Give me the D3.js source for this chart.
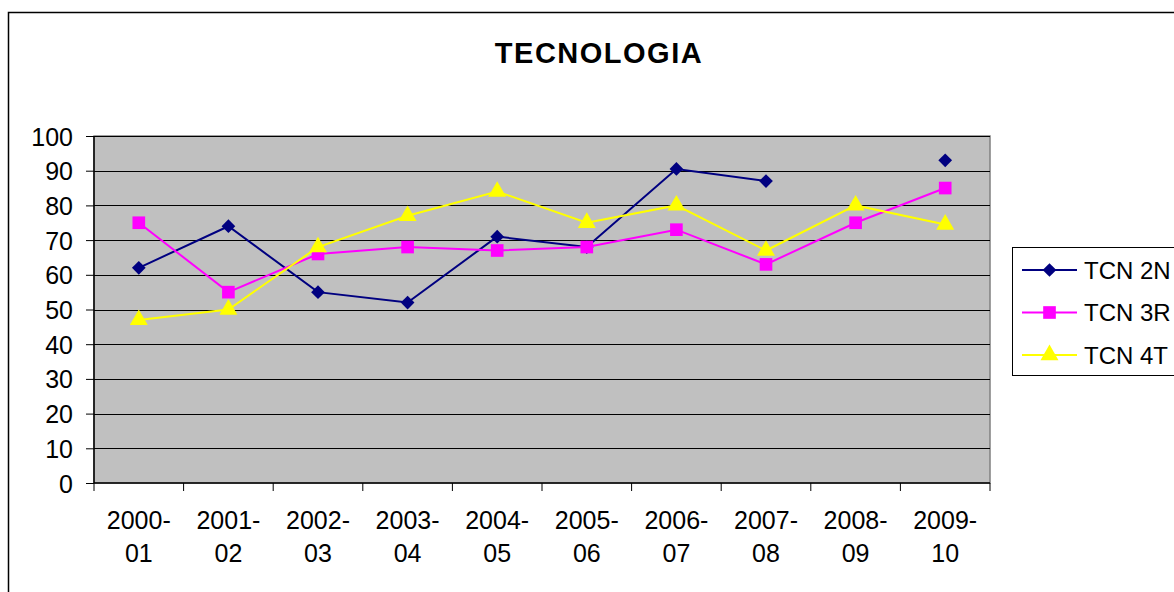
<!DOCTYPE html>
<html>
<head>
<meta charset="utf-8">
<script src="https://cdn.jsdelivr.net/npm/d3@7"></script>
<style>
  body { margin: 0; background: #fff; }
  svg text { font-family: "Liberation Sans", Arial, sans-serif; fill: #000; }
</style>
</head>
<body>
<svg id="chart" width="1174" height="592"></svg>
<script>
'use strict';
// Data
const categories = ['2000-01', '2001-02', '2002-03', '2003-04', '2004-05', '2005-06', '2006-07', '2007-08', '2008-09', '2009-10'];
const tcn2n = [62, 74, 55, 52, 71, 68, 90.5, 87, null, 93];
const tcn3r = [75, 55, 66, 68, 67, 68, 73, 63, 75, 85];
const tcn4t = [47, 50, 68, 77, 84, 75, 80, 67, 80, 74.5];
const yTicks = [0, 10, 20, 30, 40, 50, 60, 70, 80, 90, 100];

const series = [
  { name: 'TCN 2N', values: tcn2n, color: '#000080', symbol: 'diamond' },
  { name: 'TCN 3R', values: tcn3r, color: '#FF00FF', symbol: 'square' },
  { name: 'TCN 4T', values: tcn4t, color: '#FFFF00', symbol: 'triangle' }
];

const svg = d3.select('#chart');
const plot = { left: 94, top: 136, right: 990, bottom: 483 };

// outer chart frame
svg.append('rect')
  .attr('x', 8.5).attr('y', 12.5)
  .attr('width', 1200).attr('height', 700)
  .attr('fill', '#fff').attr('stroke', '#000').attr('stroke-width', 1.5);

svg.append('text')
  .attr('x', 599).attr('y', 63)
  .attr('text-anchor', 'middle')
  .style('font-size', '29px').style('font-weight', 'bold')
  .style('letter-spacing', '1.5px')
  .text('TECNOLOGIA');

const x = d3.scaleBand().domain(categories).range([plot.left, plot.right]);
const y = d3.scaleLinear().domain([0, 100]).range([plot.bottom, plot.top]);

// plot area background
svg.append('rect')
  .attr('x', plot.left).attr('y', plot.top)
  .attr('width', plot.right - plot.left).attr('height', plot.bottom - plot.top)
  .attr('fill', '#C0C0C0').attr('stroke', '#808080').attr('stroke-width', 1.5);

// gridlines
svg.append('g').selectAll('line').data(yTicks.filter(d => d > 0)).join('line')
  .attr('x1', plot.left).attr('x2', plot.right)
  .attr('y1', d => Math.round(y(d)) + 0.5).attr('y2', d => Math.round(y(d)) + 0.5)
  .attr('stroke', '#000').attr('stroke-width', 1);

// y axis
const yAxis = svg.append('g')
  .attr('transform', `translate(${plot.left},0)`)
  .call(d3.axisLeft(y).tickValues(yTicks).tickSize(8).tickPadding(13));
yAxis.selectAll('text').style('font-size', '25px').attr('dy', '0.36em');
yAxis.selectAll('line, path').attr('stroke', '#000');
yAxis.select('.domain').attr('stroke-width', 1.5).attr('d', `M0,${plot.top}V${plot.bottom}`);

// x axis: ticks at category boundaries
const xg = svg.append('g');
xg.append('line')
  .attr('x1', plot.left).attr('x2', plot.right)
  .attr('y1', plot.bottom).attr('y2', plot.bottom)
  .attr('stroke', '#000').attr('stroke-width', 1.5);
const bounds = categories.map(c => x(c)).concat([plot.right]);
xg.selectAll('line.tick').data(bounds).join('line')
  .attr('class', 'tick')
  .attr('x1', d => d).attr('x2', d => d)
  .attr('y1', plot.bottom).attr('y2', plot.bottom + 8)
  .attr('stroke', '#000');
const xl = xg.selectAll('text').data(categories).join('text')
  .attr('text-anchor', 'middle')
  .style('font-size', '25px');
xl.append('tspan')
  .attr('x', d => x(d) + x.bandwidth() / 2).attr('y', 529)
  .text(d => d.split('-')[0] + '-');
xl.append('tspan')
  .attr('x', d => x(d) + x.bandwidth() / 2).attr('y', 562)
  .text(d => d.split('-')[1]);

const cx = i => x(categories[i]) + x.bandwidth() / 2;
const symbols = {
  diamond: d3.symbol().type(d3.symbolDiamond2).size(120),
  square: d3.symbol().type(d3.symbolSquare).size(160),
  triangle: d3.symbol().type(d3.symbolTriangle).size(140)
};

const line = d3.line()
  .defined(d => d != null)
  .x((d, i) => cx(i))
  .y(d => y(d));

series.forEach(s => {
  svg.append('path')
    .attr('d', line(s.values))
    .attr('fill', 'none').attr('stroke', s.color).attr('stroke-width', 2);
  svg.append('g').selectAll('path')
    .data(s.values.map((v, i) => ({ v, i })).filter(d => d.v != null))
    .join('path')
    .attr('transform', d => `translate(${cx(d.i)},${y(d.v)})`)
    .attr('d', symbols[s.symbol]())
    .attr('fill', s.color);
});

// legend
const lg = svg.append('g');
lg.append('rect')
  .attr('x', 1012.5).attr('y', 247.5).attr('width', 200).attr('height', 128)
  .attr('fill', '#fff').attr('stroke', '#000').attr('stroke-width', 1);
series.forEach((s, i) => {
  const ly = 270 + i * 42.5;
  lg.append('line')
    .attr('x1', 1022).attr('x2', 1077).attr('y1', ly).attr('y2', ly)
    .attr('stroke', s.color).attr('stroke-width', 2);
  lg.append('path')
    .attr('transform', `translate(1049.5,${ly})`)
    .attr('d', symbols[s.symbol]())
    .attr('fill', s.color);
  lg.append('text')
    .attr('x', 1084).attr('y', ly).attr('dy', '0.36em')
    .style('font-size', '24px')
    .text(s.name);
});
</script>
</body>
</html>
